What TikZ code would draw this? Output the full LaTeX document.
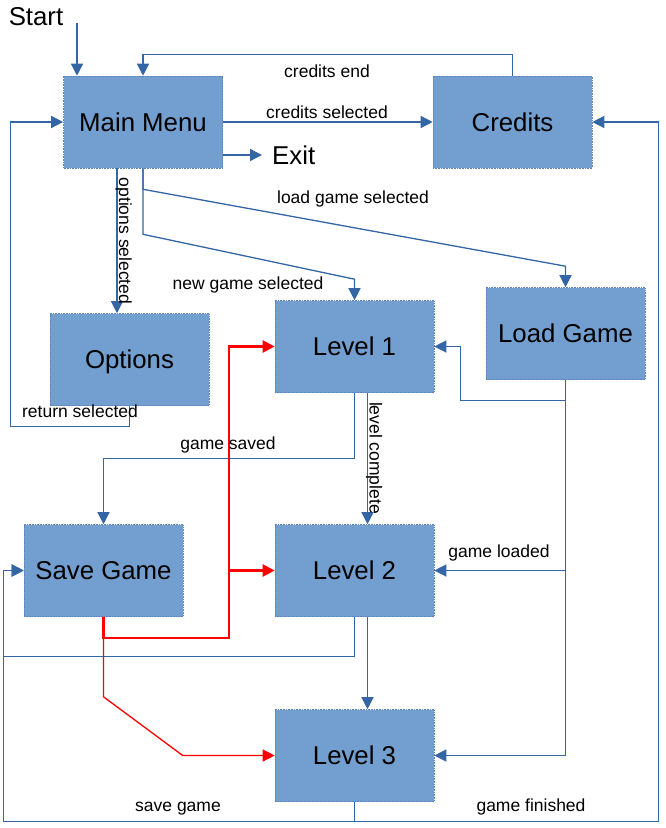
\documentclass[tikz,border=0pt]{standalone}
\usepackage{fontspec}
\setmainfont{Liberation Sans}
\usetikzlibrary{arrows.meta}
\definecolor{boxfill}{HTML}{729FCF}
\definecolor{boxedge}{HTML}{5A86BC}
\definecolor{linkblue}{HTML}{3465A4}
\definecolor{linkred}{HTML}{FF0000}
\tikzset{
  state/.style={draw=boxedge, densely dotted, line width=0.6pt, fill=boxfill,
    minimum width=159pt, minimum height=92pt, inner sep=0pt,
    text height=18.8pt, text depth=0pt,
    font=\fontsize{25.8}{30}\selectfont},
  bigtxt/.style={font=\fontsize{25.8}{30}\selectfont, inner sep=0pt},
  lbl/.style={font=\fontsize{17.5}{20}\selectfont, inner sep=0pt,
    text height=12.8pt, text depth=0pt},
  arr/.style={draw=linkblue, line width=1.3pt, -{Triangle[length=12pt,width=12pt]}},
  redarr/.style={draw=linkred, line width=2.2pt, -{Triangle[length=12pt,width=12pt]}}
}
\begin{document}
\begin{tikzpicture}[x=1pt,y=-1pt]
		\useasboundingbox (0,0) rectangle (665,828);
		% states
		\node[state] (mainmenu) at (143,122) {Main Menu};
		\node[state] (credits) at (512.5,122) {Credits};
		\node[state] (options) at (129.5,359.5) {Options};
		\node[state] (level1) at (354.5,346.5) {Level 1};
		\node[state] (loadgame) at (565.5,333.5) {Load Game};
		\node[state] (savegame) at (103.5,570.5) {Save Game};
		\node[state] (level2) at (354.5,570.5) {Level 2};
		\node[state] (level3) at (354.5,755.5) {Level 3};
		\node[bigtxt] (start) at (36,17) {Start};
		\node[bigtxt,anchor=west] (exit) at (272,155) {Exit};
		\coordinate (startpt) at (77,23);
		% menu links
		\draw[arr] (startpt) -- (mainmenu.north -| startpt);
		\draw[arr] (credits.north) -- ++(0,-21) -| (mainmenu.north);
		\draw[arr] (mainmenu) -- (credits);
		\draw[arr,shorten >=10pt] (mainmenu.east |- exit) -- (exit.west);
		\draw[arr] ([xshift=-26pt]mainmenu.south) -- ([xshift=-12.5pt]options.north);
		\draw[arr] (mainmenu.south) -- ++(0,21) -- ([yshift=21pt]loadgame.north) -- (loadgame.north);
		\draw[arr] (mainmenu.south) -- ++(0,66) -- ([yshift=21pt]level1.north) -- (level1.north);
		\draw[arr] (options.south) -- ++(0,21) -| ([xshift=-53pt]mainmenu.west) -- (mainmenu.west);
		% level links
		\draw[arr] ([xshift=13pt]level1.south) -- ([xshift=13pt]level2.north);
		\draw[arr] (level1.south) -- ++(0,66) -| (savegame.north);
		\draw[arr] ([xshift=13pt]level2.south) -- ([xshift=13pt]level3.north);
		\draw[arr] (level2.south) -- ++(0,40) -| ([xshift=-20pt]savegame.west) -- (savegame.west);
		\draw[arr] (level3.south) -- ++(0,20) -| ([xshift=-20pt]savegame.west) -- (savegame.west);
		\draw[arr] (level3.south) -- ++(0,20) -| ([xshift=66pt]credits.east) -- (credits.east);
		\draw[arr] (loadgame.south) -- ++(0,21) -| ([xshift=26pt]level1.east) -- (level1.east);
		\draw[arr] (loadgame.south) |- (level2.east);
		\draw[arr] (loadgame.south) |- (level3.east);
		% save game links
		\coordinate (redsplit) at ([xshift=-46pt]level2.west);
		\draw[redarr] (savegame.south) -- ++(0,21) -| ([xshift=-46pt]level1.west) -- (level1.west);
		\draw[redarr] (redsplit) -- (level2.west);
		\draw[redarr,line width=1.3pt] (savegame.south) -- ++(0,80) -- ([xshift=-92pt]level3.west) -- (level3.west);
		% labels
		\node[lbl] (lcreditsend) at (327,71) {credits end};
		\node[lbl] (lcreditssel) at (327,112) {credits selected};
		\node[lbl] (lloadsel) at (353,197) {load game selected};
		\node[lbl] (lnewsel) at (248,283) {new game selected};
		\node[lbl,rotate=-90] (loptsel) at (125.5,241) {options selected};
		\node[lbl] (lreturn) at (80,411) {return selected};
		\node[lbl] (lsaved) at (228,443) {game saved};
		\node[lbl,rotate=-90] (lcomplete) at (376,458) {level complete};
		\node[lbl] (lloaded) at (499,551) {game loaded};
		\node[lbl] (lsave) at (178,805) {save game};
		\node[lbl] (lfinished) at (531,805) {game finished};
	\end{tikzpicture}
\end{document}
